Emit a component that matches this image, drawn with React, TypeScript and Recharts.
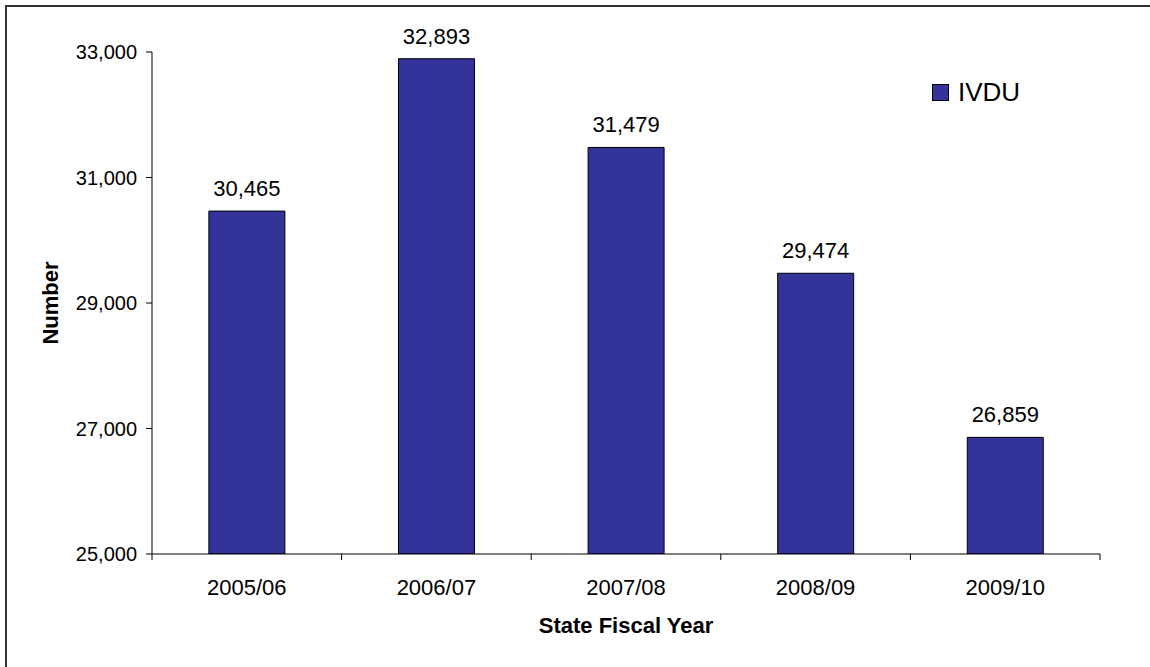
import React from 'react';
import { BarChart, Bar, XAxis, YAxis, LabelList, Legend } from 'recharts';

const categories = ['2005/06', '2006/07', '2007/08', '2008/09', '2009/10'];
const ivduValues = [30465, 32893, 31479, 29474, 26859];
const yTicks = [25000, 27000, 29000, 31000, 33000];
const seriesName = 'IVDU';

const data = categories.map((c, i) => ({ year: c, ivdu: ivduValues[i] }));

const FONT = '"Liberation Sans", Arial, sans-serif';
const fmt = (v: number) => v.toLocaleString('en-US');

const CategoryTick = (props: any) => {
  const { x, y, payload, index } = props;
  const half = payload && payload.offset != null ? payload.offset : 94.8;
  const axisY = y - 8;
  return (
    <g>
      <line x1={x - half} y1={axisY} x2={x - half} y2={axisY + 6} stroke="#000" strokeWidth={1} />
      {index === categories.length - 1 && (
        <line x1={x + half} y1={axisY} x2={x + half} y2={axisY + 6} stroke="#000" strokeWidth={1} />
      )}
      <text x={x} y={axisY + 25} dy="0.71em" textAnchor="middle" fontFamily={FONT} fontSize={22} fill="#000">
        {payload.value}
      </text>
    </g>
  );
};

const LegendContent = () => (
  <div style={{ display: 'flex', alignItems: 'center', fontFamily: FONT }}>
    <div style={{ width: 15, height: 15, background: '#333399', border: '1px solid #000', marginRight: 9 }} />
    <span style={{ fontSize: 26, color: '#000', lineHeight: '30px' }}>{seriesName}</span>
  </div>
);

export default function App() {
  return (
    <div style={{ position: 'absolute', left: 0, top: 0, width: 1150, height: 667, overflow: 'hidden', background: '#fff' }}>
      <div style={{ position: 'absolute', left: 5, top: 5, width: 1300, height: 800, borderLeft: '2px solid #333', borderTop: '2px solid #333' }} />
      <div style={{ position: 'absolute', left: 0, top: 0 }}>
        <BarChart width={1150} height={667} data={data} margin={{ top: 52, right: 50, bottom: 28, left: 0 }} barCategoryGap="30%">
          <XAxis
            dataKey="year"
            tickLine={false}
            tick={<CategoryTick />}
            axisLine={{ stroke: '#000', strokeWidth: 1 }}
            height={85}
            interval={0}
            label={{ value: 'State Fiscal Year', position: 'insideBottom', offset: 6, style: { fontFamily: FONT, fontSize: 22, fontWeight: 'bold', fill: '#000' } }}
          />
          <YAxis
            domain={[25000, 33000]}
            ticks={yTicks}
            interval={0}
            width={152}
            tickSize={6}
            tickMargin={9}
            tickFormatter={fmt}
            tick={{ fontFamily: FONT, fontSize: 20, fill: '#000' }}
            tickLine={{ stroke: '#000' }}
            axisLine={{ stroke: '#000', strokeWidth: 1 }}
            allowDataOverflow
            label={{ value: 'Number', angle: -90, position: 'insideLeft', offset: 50, style: { fontFamily: FONT, fontSize: 22, fontWeight: 'bold', fill: '#000', textAnchor: 'middle' } }}
          />
          <Legend verticalAlign="middle" align="center" layout="horizontal" content={<LegendContent />} wrapperStyle={{ top: 77, left: 932, width: 'auto' }} />
          <Bar dataKey="ivdu" name={seriesName} fill="#333399" stroke="#000" strokeWidth={1} isAnimationActive={false}>
            <LabelList dataKey="ivdu" position="top" offset={15} formatter={(v: any) => fmt(Number(v))} style={{ fontFamily: FONT, fontSize: 22, fill: '#000' }} />
          </Bar>
        </BarChart>
      </div>
    </div>
  );
}
